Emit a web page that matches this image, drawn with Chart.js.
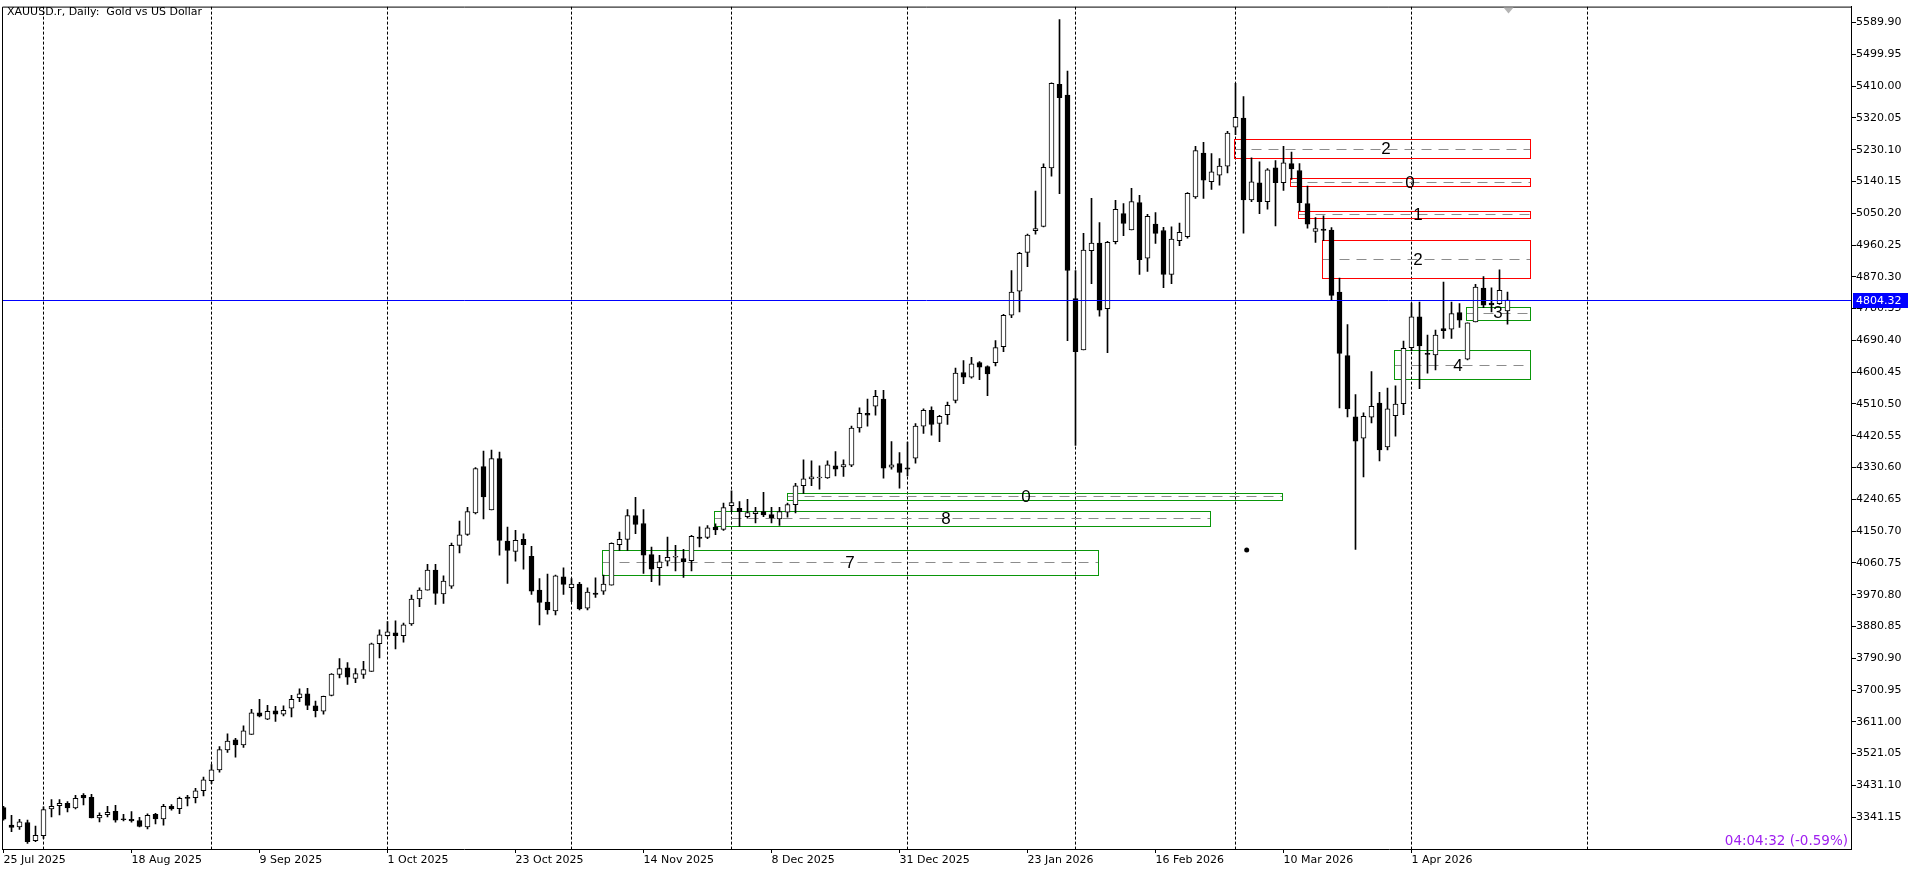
<!DOCTYPE html>
<html>
<head>
<meta charset="utf-8">
<title>XAUUSD.r, Daily</title>
<script src="https://cdn.jsdelivr.net/npm/chart.js@4.4.0/dist/chart.umd.min.js"></script>
<style>
    html, body { margin: 0; padding: 0; background: #fff; overflow: hidden; }
    #chart { display: block; }
</style>
</head>
<body>
<canvas id="chart" width="1920" height="873"></canvas>
<script>
// --- Data (one entry per daily bar) ---
const opens = [
    3368.3, 3318.7, 3313.9, 3326.1, 3274.6, 3288.7, 3364.6, 3373.9, 3380.5, 3367.4,
    3403.0, 3397.4, 3339.3, 3348.6, 3358.0, 3335.0, 3335.5, 3331.8, 3313.9, 3349.6,
    3336.4, 3372.1, 3365.5, 3398.3, 3396.4, 3416.1, 3444.2, 3475.1, 3531.3, 3560.4,
    3545.4, 3575.4, 3636.3, 3618.5, 3641.9, 3632.5, 3649.4, 3679.4, 3690.6, 3656.0,
    3641.0, 3686.0, 3745.0, 3763.7, 3733.7, 3745.0, 3753.4, 3832.1, 3854.6, 3863.0,
    3854.6, 3888.3, 3958.6, 3983.9, 4040.1, 3972.7, 3995.2, 4110.4, 4141.3, 4202.2,
    4333.4, 4210.7, 4355.9, 4122.6, 4093.5, 4127.3, 4079.5, 3983.9, 3950.2, 3924.9,
    4021.4, 3990.5, 4000.8, 3932.4, 3975.5, 3981.1, 3997.9, 4112.3, 4127.3, 4194.7,
    4172.2, 4084.1, 4047.6, 4065.4, 4076.7, 4072.9, 4067.3, 4133.8, 4132.9, 4161.9,
    4155.4, 4222.8, 4215.3, 4191.9, 4200.3, 4206.0, 4197.5, 4185.4, 4204.1, 4225.6,
    4279.0, 4298.7, 4301.0, 4301.5, 4335.3, 4332.5, 4337.2, 4443.0, 4484.2, 4503.9,
    4524.5, 4331.5, 4341.8, 4329.6, 4356.8, 4447.7, 4492.7, 4455.2, 4480.5, 4520.8,
    4599.5, 4586.4, 4627.6, 4616.4, 4627.6, 4672.6, 4761.6, 4830.0, 4939.6, 5000.5,
    5012.7, 5178.6, 5414.7, 5384.7, 4808.4, 4663.2, 4944.3, 4965.9, 4780.4, 4969.6,
    5049.3, 5003.3, 5080.2, 4922.8, 5019.3, 5001.2, 4876.8, 4972.4, 4983.7, 5096.1,
    5220.7, 5139.2, 5157.9, 5183.3, 5293.8, 5319.1, 5087.7, 5136.4, 5083.0, 5178.6,
    5136.4, 5190.7, 5171.0, 5077.4, 4998.6, 5005.2, 5002.4, 4827.2, 4647.3, 4473.9,
    4413.9, 4473.0, 4513.3, 4388.6, 4477.7, 4511.4, 4669.8, 4756.9, 4652.9, 4649.2,
    4724.1, 4722.2, 4769.1, 4637.0, 4742.9, 4838.4, 4796.3, 4794.4, 4773.8
];
const highs = [
    3372.0, 3346.8, 3335.5, 3332.7, 3315.8, 3370.2, 3390.8, 3390.8, 3385.2, 3403.0,
    3407.7, 3405.8, 3353.3, 3372.1, 3374.9, 3349.6, 3357.1, 3341.1, 3350.5, 3352.4,
    3377.7, 3376.8, 3398.3, 3403.0, 3422.7, 3454.5, 3490.1, 3540.7, 3577.3, 3564.1,
    3599.7, 3646.6, 3674.7, 3657.8, 3655.0, 3656.0, 3686.0, 3704.7, 3705.6, 3670.0,
    3684.1, 3747.8, 3790.0, 3778.7, 3761.9, 3782.4, 3834.0, 3871.5, 3894.9, 3896.8,
    3890.2, 3969.8, 3990.5, 4057.0, 4057.0, 4024.2, 4117.0, 4178.8, 4218.2, 4330.6,
    4377.4, 4380.3, 4374.6, 4161.9, 4152.6, 4143.2, 4107.6, 4016.7, 4028.9, 4026.1,
    4046.7, 4016.7, 4005.5, 3990.5, 4018.6, 4026.1, 4117.9, 4147.9, 4211.6, 4246.3,
    4211.6, 4105.7, 4082.3, 4133.8, 4110.4, 4099.1, 4138.5, 4163.1, 4166.6, 4171.3,
    4230.3, 4265.0, 4234.1, 4240.6, 4218.2, 4260.3, 4218.2, 4218.2, 4230.3, 4285.6,
    4352.1, 4349.3, 4335.3, 4349.3, 4375.6, 4352.1, 4447.7, 4499.2, 4524.5, 4548.9,
    4548.9, 4403.7, 4372.8, 4402.7, 4455.2, 4496.4, 4502.1, 4478.6, 4516.1, 4612.0,
    4633.3, 4642.6, 4630.4, 4618.2, 4689.5, 4764.4, 4888.1, 4939.6, 4991.2, 5112.9,
    5189.8, 5419.4, 5598.3, 5452.2, 4888.1, 4993.0, 5092.4, 5024.0, 4970.6, 5086.7,
    5077.4, 5120.5, 5100.8, 5047.4, 5052.1, 5010.5, 5011.8, 5022.1, 5108.3, 5239.5,
    5250.7, 5218.9, 5204.8, 5281.6, 5417.5, 5380.0, 5206.7, 5195.4, 5176.7, 5199.1,
    5239.5, 5223.5, 5190.7, 5127.0, 5038.0, 5042.7, 5009.9, 4866.5, 4735.4, 4536.7,
    4485.2, 4602.3, 4543.3, 4555.5, 4562.0, 4688.5, 4796.3, 4799.1, 4705.4, 4719.4,
    4855.3, 4799.1, 4794.4, 4740.0, 4848.7, 4871.2, 4839.4, 4889.9, 4827.2
];
const lows = [
    3333.0, 3299.9, 3306.5, 3267.1, 3271.8, 3281.2, 3342.1, 3347.7, 3356.1, 3364.6,
    3375.8, 3339.3, 3328.0, 3342.1, 3327.1, 3330.8, 3327.1, 3313.9, 3308.3, 3322.4,
    3318.7, 3360.8, 3351.4, 3373.0, 3381.4, 3401.1, 3435.8, 3468.6, 3524.8, 3510.7,
    3538.9, 3575.4, 3625.0, 3617.5, 3611.9, 3627.9, 3625.0, 3668.1, 3645.7, 3625.0,
    3632.5, 3684.1, 3735.6, 3716.9, 3721.6, 3733.7, 3753.4, 3791.8, 3852.7, 3817.1,
    3836.8, 3883.6, 3937.1, 3983.9, 3943.6, 3946.4, 3988.6, 4088.9, 4138.5, 4199.4,
    4185.4, 4210.7, 4082.3, 4002.7, 4065.4, 4042.9, 3971.7, 3885.5, 3915.5, 3913.6,
    3971.7, 3951.1, 3927.7, 3927.7, 3963.3, 3971.7, 3997.9, 4096.3, 4096.3, 4143.2,
    4030.8, 4007.3, 3997.9, 4052.3, 4038.2, 4019.5, 4038.2, 4105.7, 4129.1, 4140.4,
    4152.6, 4206.0, 4163.8, 4187.2, 4174.1, 4191.9, 4174.1, 4166.6, 4190.0, 4202.2,
    4257.5, 4279.0, 4269.7, 4299.7, 4307.2, 4305.3, 4333.4, 4430.8, 4447.7, 4478.6,
    4300.6, 4325.9, 4272.5, 4307.2, 4342.8, 4427.1, 4422.4, 4403.7, 4452.4, 4513.3,
    4567.6, 4583.6, 4578.9, 4533.9, 4618.2, 4658.5, 4755.0, 4771.0, 4899.3, 4991.2,
    5011.8, 5155.1, 5105.5, 4689.5, 4393.4, 4663.2, 4850.6, 4758.8, 4655.7, 4963.1,
    4986.5, 5003.3, 4876.8, 4885.3, 4964.9, 4839.4, 4850.6, 4958.4, 4979.9, 5092.4,
    5092.4, 5117.7, 5129.8, 5164.5, 5272.3, 4994.0, 5083.0, 5049.3, 5061.4, 5014.6,
    5114.8, 5145.8, 5056.7, 5008.0, 4967.7, 4972.4, 4805.6, 4499.2, 4473.9, 4099.1,
    4304.3, 4457.1, 4349.3, 4380.2, 4419.6, 4480.5, 4661.3, 4553.6, 4597.6, 4607.0,
    4696.0, 4696.0, 4726.9, 4635.1, 4742.9, 4783.1, 4770.9, 4792.5, 4736.3
];
const closes = [
    3335.5, 3312.1, 3328.0, 3271.8, 3289.6, 3362.7, 3372.1, 3380.5, 3367.4, 3394.5,
    3395.5, 3339.3, 3346.8, 3355.2, 3332.7, 3334.0, 3330.8, 3314.9, 3346.8, 3336.4,
    3372.1, 3364.6, 3394.5, 3394.5, 3416.1, 3447.0, 3475.1, 3532.3, 3556.6, 3545.4,
    3585.7, 3636.3, 3626.9, 3641.0, 3632.5, 3643.8, 3674.7, 3690.6, 3657.8, 3642.8,
    3683.1, 3745.9, 3761.9, 3737.5, 3747.8, 3759.0, 3832.1, 3857.4, 3865.8, 3854.6,
    3885.5, 3958.6, 3983.9, 4040.1, 3974.5, 4009.2, 4110.4, 4140.4, 4206.0, 4327.8,
    4247.2, 4355.9, 4124.5, 4096.3, 4124.5, 4112.3, 3981.1, 3949.2, 3927.7, 4024.2,
    3999.8, 4000.8, 3930.5, 3978.3, 3971.7, 4000.8, 4116.0, 4127.3, 4194.7, 4169.4,
    4082.3, 4042.9, 4063.5, 4076.7, 4077.6, 4063.5, 4135.7, 4130.1, 4160.1, 4154.4,
    4217.2, 4231.3, 4206.0, 4203.2, 4206.0, 4196.6, 4188.2, 4206.0, 4225.6, 4279.0,
    4298.7, 4304.4, 4302.0, 4338.1, 4325.9, 4339.0, 4442.1, 4484.2, 4478.6, 4532.0,
    4328.7, 4338.1, 4316.5, 4325.9, 4447.7, 4492.7, 4452.4, 4475.8, 4506.7, 4598.0,
    4586.4, 4623.9, 4614.5, 4595.7, 4669.8, 4761.6, 4827.2, 4936.8, 4988.4, 5007.1,
    5180.4, 5417.5, 5377.2, 4888.1, 4658.5, 4946.2, 4965.9, 4775.7, 4967.8, 5061.4,
    5021.2, 5083.0, 4919.0, 5041.7, 4993.0, 4876.8, 4977.1, 4995.8, 5106.4, 5227.3,
    5143.9, 5167.3, 5183.3, 5276.9, 5321.9, 5087.7, 5139.2, 5083.0, 5172.9, 5136.4,
    5192.6, 5175.7, 5080.2, 5019.3, 5007.1, 5001.5, 4817.8, 4653.8, 4496.4, 4405.5,
    4475.8, 4503.9, 4380.2, 4496.4, 4510.5, 4667.9, 4756.9, 4674.5, 4651.0, 4705.4,
    4717.6, 4766.3, 4747.5, 4740.0, 4841.3, 4789.7, 4790.6, 4831.9, 4804.32
];

// Axis ticks
const dateTickIdx = [0, 16, 32, 48, 64, 80, 96, 112, 128, 144, 160, 176];
const dateTickLabels = ['25 Jul 2025', '18 Aug 2025', '9 Sep 2025', '1 Oct 2025', '23 Oct 2025', '14 Nov 2025',
    '8 Dec 2025', '31 Dec 2025', '23 Jan 2026', '16 Feb 2026', '10 Mar 2026', '1 Apr 2026'];
const monthStartIdx = [5, 26, 48, 71, 91, 113, 134, 154, 176, 198];
const priceTicks = [5589.90, 5499.95, 5410.00, 5320.05, 5230.10, 5140.15, 5050.20, 4960.25, 4870.30,
    4780.35, 4690.40, 4600.45, 4510.50, 4420.55, 4330.60, 4240.65, 4150.70, 4060.75, 3970.80,
    3880.85, 3790.90, 3700.95, 3611.00, 3521.05, 3431.10, 3341.15];

// Zones (bar index range, price range, mid line, label)
const zoneType = ['sell', 'sell', 'sell', 'sell', 'buy', 'buy', 'buy', 'buy', 'buy'];
const zoneFrom = [153.8, 160.8, 161.8, 164.8, 182.8, 173.8, 97.9, 88.8, 74.8];
const zoneTo = [190.8, 190.8, 190.8, 190.8, 190.8, 190.8, 159.8, 150.8, 136.8];
const zoneTop = [5261.0, 5148.6, 5055.8, 4974.3, 4785.9, 4662.3, 4257.5, 4206.9, 4097.3];
const zoneBottom = [5207.6, 5126.1, 5036.1, 4867.5, 4749.4, 4580.8, 4237.7, 4164.7, 4027.0];
const zoneMid = [5233.0, 5138.5, 5047.4, 4920.9, 4769.1, 4620.1, 4249.0, 4187.2, 4063.5];
const zoneLabel = ['2', '0', '1', '2', '3', '4', '0', '8', '7'];
const zoneLabelIdx = [172.8, 175.8, 176.8, 176.8, 186.8, 181.8, 127.8, 117.8, 105.8];

const bidPrice = 4804.32;
const dotPoint = { idx: 155.4, price: 4097.3 };
const titleText = 'XAUUSD.r, Daily:  Gold vs US Dollar';
const timerText = '04:04:32 (-0.59%)';

// --- Chart ---
const FONT = 'DejaVu Sans';
const lastIdx = closes.length - 1;

const bodies = opens.map((o, i) => ({ x: i, y: [o, closes[i]] }));
const wicks = lows.map((l, i) => ({ x: i, y: [l, highs[i]] }));

const mt5Plugin = {
    id: 'mt5',
    beforeDraw(chart) {
        const ctx = chart.ctx;
        ctx.save();
        ctx.fillStyle = '#fff';
        ctx.fillRect(0, 0, chart.width, chart.height);
        ctx.restore();
    },
    beforeDatasetsDraw(chart) {
        const { ctx, chartArea: a, scales: { x, y } } = chart;
        ctx.save();
        ctx.beginPath();
        ctx.rect(a.left, a.top, a.right - a.left, a.bottom - a.top);
        ctx.clip();

        // month separators
        ctx.strokeStyle = '#000';
        ctx.lineWidth = 1;
        ctx.setLineDash([3, 2]);
        monthStartIdx.forEach(m => {
            const px = Math.floor(x.getPixelForValue(m)) + 0.5;
            ctx.beginPath();
            ctx.moveTo(px, a.top);
            ctx.lineTo(px, a.bottom);
            ctx.stroke();
        });

        // zones
        zoneType.forEach((t, i) => {
            const x1 = Math.round(x.getPixelForValue(zoneFrom[i])) + 0.5;
            const x2 = Math.round(x.getPixelForValue(zoneTo[i])) + 0.5;
            const y1 = Math.round(y.getPixelForValue(zoneTop[i])) + 0.5;
            const y2 = Math.round(y.getPixelForValue(zoneBottom[i])) + 0.5;
            const ym = Math.round(y.getPixelForValue(zoneMid[i])) + 0.5;
            ctx.setLineDash([10, 7]);
            ctx.strokeStyle = '#8c8c8c';
            ctx.beginPath();
            ctx.moveTo(x1, ym);
            ctx.lineTo(x2, ym);
            ctx.stroke();
            ctx.setLineDash([]);
            ctx.strokeStyle = t === 'sell' ? '#ff0000' : '#0a960a';
            ctx.strokeRect(x1, y1, x2 - x1, y2 - y1);
        });
        ctx.restore();
    },
    afterDatasetsDraw(chart) {
        const { ctx, chartArea: a, scales: { x, y } } = chart;
        ctx.save();
        ctx.beginPath();
        ctx.rect(a.left, a.top, a.right - a.left, a.bottom - a.top);
        ctx.clip();

        // zone labels
        ctx.fillStyle = '#000';
        ctx.font = '17px "Liberation Sans"';
        ctx.textAlign = 'center';
        ctx.textBaseline = 'middle';
        zoneLabel.forEach((lbl, i) => {
            ctx.fillText(lbl, x.getPixelForValue(zoneLabelIdx[i]), y.getPixelForValue(zoneMid[i]) + 1);
        });

        // bid line
        const by = Math.round(y.getPixelForValue(bidPrice)) + 0.5;
        ctx.strokeStyle = '#0000ff';
        ctx.lineWidth = 1;
        ctx.beginPath();
        ctx.moveTo(a.left, by);
        ctx.lineTo(a.right, by);
        ctx.stroke();

        // dot object
        ctx.fillStyle = '#000';
        ctx.beginPath();
        ctx.arc(x.getPixelForValue(dotPoint.idx), y.getPixelForValue(dotPoint.price), 2.5, 0, Math.PI * 2);
        ctx.fill();
        ctx.restore();
    },
    afterDraw(chart) {
        const { ctx, chartArea: a, scales: { x, y } } = chart;
        ctx.save();

        // frame left + top
        ctx.strokeStyle = '#000';
        ctx.lineWidth = 1;
        ctx.beginPath();
        ctx.moveTo(a.left + 0.5, a.bottom);
        ctx.lineTo(a.left + 0.5, a.top + 0.5);
        ctx.lineTo(a.right, a.top + 0.5);
        ctx.stroke();

        // bid price box on the axis
        const by = Math.round(y.getPixelForValue(bidPrice));
        ctx.fillStyle = '#0000ff';
        ctx.fillRect(a.right + 2, by - 7, 55, 15);
        ctx.fillStyle = '#fff';
        ctx.font = '11px "' + FONT + '"';
        ctx.textAlign = 'left';
        ctx.textBaseline = 'middle';
        ctx.fillText(bidPrice.toFixed(2), a.right + 5, by + 1);

        // title
        ctx.fillStyle = '#000';
        ctx.fillText(titleText, 7, 12);

        // timer
        ctx.fillStyle = '#a020f0';
        ctx.font = '13.5px "' + FONT + '"';
        ctx.textAlign = 'right';
        ctx.fillText(timerText, a.right - 3, 841);

        // chart shift marker
        const sx = Math.round(x.getPixelForValue(lastIdx)) + 0.5;
        ctx.fillStyle = '#b4b4b4';
        ctx.beginPath();
        ctx.moveTo(sx - 5, a.top + 1);
        ctx.lineTo(sx + 5, a.top + 1);
        ctx.lineTo(sx, a.top + 7);
        ctx.closePath();
        ctx.fill();
        ctx.restore();
    }
};

new Chart(document.getElementById('chart'), {
    type: 'bar',
    data: {
        datasets: [
            {
                label: 'body',
                data: bodies,
                order: 0,
                grouped: false,
                barThickness: 5,
                minBarLength: 1,
                borderWidth: 1,
                borderSkipped: false,
                borderColor: '#000',
                backgroundColor: c => closes[c.dataIndex] >= opens[c.dataIndex] ? '#fff' : '#000'
            },
            {
                label: 'wick',
                data: wicks,
                order: 1,
                grouped: false,
                barThickness: 1,
                borderWidth: 0,
                backgroundColor: '#000'
            }
        ]
    },
    options: {
        responsive: false,
        animation: false,
        devicePixelRatio: 1,
        layout: { padding: { left: 2, top: 1, right: 0, bottom: 0 } },
        plugins: { legend: { display: false }, tooltip: { enabled: false } },
        scales: {
            x: {
                type: 'linear',
                offset: false,
                min: -0.1875,
                max: 230.9375,
                afterBuildTicks: s => { s.ticks = dateTickIdx.map(v => ({ value: v })); },
                afterFit: s => { s.height = 24; },
                ticks: {
                    autoSkip: false,
                    maxRotation: 0,
                    align: 'start',
                    padding: 1,
                    color: '#000',
                    font: { family: FONT, size: 11 },
                    callback: v => dateTickLabels[dateTickIdx.indexOf(v)]
                },
                grid: { offset: false, drawOnChartArea: false, drawTicks: true, tickLength: 4, color: '#000' },
                border: { display: true, color: '#000', width: 1 }
            },
            y: {
                position: 'right',
                min: 3251.2,
                max: 5634.88,
                afterBuildTicks: s => { s.ticks = priceTicks.map(v => ({ value: v })); },
                afterFit: s => { s.width = 69; },
                ticks: {
                    padding: 0,
                    color: '#000',
                    font: { family: FONT, size: 11 },
                    callback: v => v.toFixed(2)
                },
                grid: { drawOnChartArea: false, drawTicks: true, tickLength: 5, color: '#000' },
                border: { display: true, color: '#000', width: 1 }
            }
        }
    },
    plugins: [mt5Plugin]
});
</script>
</body>
</html>
